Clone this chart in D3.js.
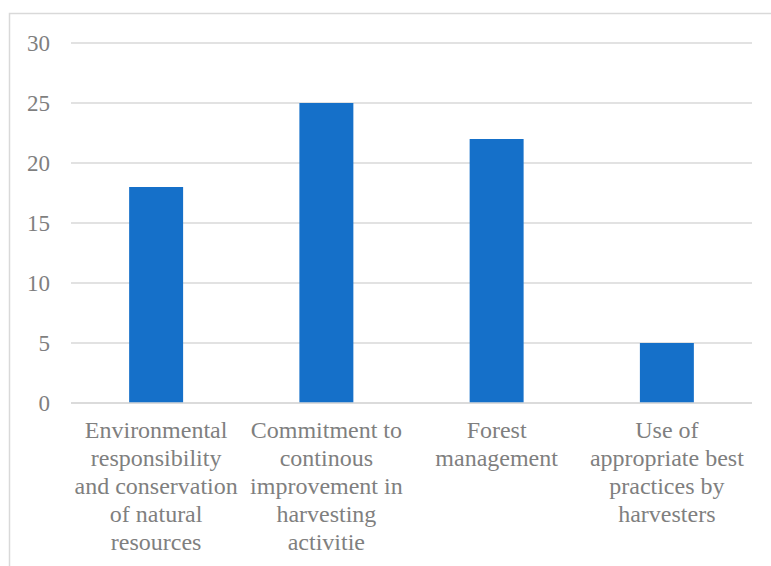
<!DOCTYPE html>
<html>
<head>
<meta charset="utf-8">
<script src="https://cdn.jsdelivr.net/npm/d3@7"></script>
<style>
  html, body { margin: 0; padding: 0; background: #fff; }
  svg { display: block; }
  svg text { font-family: "Liberation Serif", "Times New Roman", Tinos, "DejaVu Serif", serif; }
</style>
</head>
<body>
<svg id="chart" width="771" height="566"></svg>
<script>
// Survey themes and their counts
const categories = [
  ["Environmental", "responsibility", "and conservation", "of natural", "resources"],
  ["Commitment to", "continous", "improvement in", "harvesting", "activitie"],
  ["Forest", "management"],
  ["Use of", "appropriate best", "practices by", "harvesters"]
];
const values = [18, 25, 22, 5];
const yTicks = [0, 5, 10, 15, 20, 25, 30];

const W = 771, H = 566;
const margin = { left: 71, right: 19, top: 43, bottom: 163 };
const svg = d3.select("#chart");

const textColor = "#7f7f7f";
const gridColor = "#d9d9d9";
const barColor = "#1570c9";

// Chart frame
svg.append("rect")
  .attr("x", 9.5).attr("y", 13.5)
  .attr("width", W + 10).attr("height", H + 10)
  .attr("fill", "none").attr("stroke", gridColor).attr("stroke-width", 1.5);

const x = d3.scaleBand()
  .domain(d3.range(categories.length))
  .range([margin.left, W - margin.right])
  .paddingInner(0.683)
  .paddingOuter(0.3415);

const y = d3.scaleLinear()
  .domain([0, 30])
  .range([H - margin.bottom, margin.top]);

// Horizontal gridlines
svg.append("g")
  .selectAll("line")
  .data(yTicks)
  .join("line")
  .attr("x1", margin.left).attr("x2", W - margin.right)
  .attr("y1", d => y(d)).attr("y2", d => y(d))
  .attr("stroke", gridColor).attr("stroke-width", 1.5);

// Y axis labels
const yAxis = svg.append("g")
  .attr("transform", `translate(${margin.left},0)`)
  .call(d3.axisLeft(y).tickValues(yTicks).tickSize(0).tickPadding(21));
yAxis.attr("font-family", null).attr("font-size", null);
yAxis.select(".domain").remove();
yAxis.selectAll("text")
  .attr("fill", textColor)
  .style("font-size", "23px");

// Bars
svg.append("g")
  .selectAll("rect")
  .data(values)
  .join("rect")
  .attr("x", (d, i) => x(i))
  .attr("width", x.bandwidth())
  .attr("y", d => y(d))
  .attr("height", d => y(0) - y(d))
  .attr("fill", barColor);

// Category baseline
svg.append("line")
  .attr("x1", margin.left).attr("x2", W - margin.right)
  .attr("y1", y(0)).attr("y2", y(0))
  .attr("stroke", gridColor).attr("stroke-width", 1.5);

// Wrapped category labels
const lineH = 28;
svg.append("g")
  .selectAll("text")
  .data(categories)
  .join("text")
  .attr("x", (d, i) => x(i) + x.bandwidth() / 2)
  .attr("y", y(0) + 35)
  .attr("text-anchor", "middle")
  .attr("fill", textColor)
  .style("font-size", "24px")
  .each(function (lines) {
    const t = d3.select(this);
    const cx = t.attr("x");
    lines.forEach((ln, k) => {
      t.append("tspan").attr("x", cx).attr("dy", k === 0 ? 0 : lineH).text(ln);
    });
  });
</script>
</body>
</html>
